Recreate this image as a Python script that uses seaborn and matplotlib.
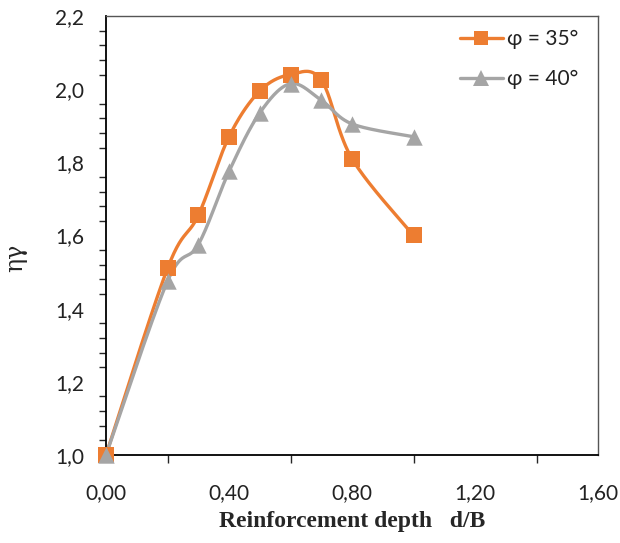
import numpy as np
import pandas as pd
import matplotlib
matplotlib.use("Agg")
import matplotlib.pyplot as plt
import seaborn as sns
from matplotlib.lines import Line2D
from matplotlib.ticker import MultipleLocator

# ---- data ----
depth = [0.0, 0.2, 0.3, 0.4, 0.5, 0.6, 0.7, 0.8, 1.0]
eta_35 = [1.00, 1.51, 1.655, 1.87, 1.995, 2.04, 2.025, 1.81, 1.60]
eta_40 = [1.00, 1.475, 1.575, 1.775, 1.935, 2.015, 1.97, 1.905, 1.87]
series_labels = ["φ = 35°", "φ = 40°"]
xticks = [0.0, 0.4, 0.8, 1.2, 1.6]
xtick_labels = ["0,00", "0,40", "0,80", "1,20", "1,60"]
yticks = [1.0, 1.2, 1.4, 1.6, 1.8, 2.0, 2.2]
ytick_labels = ["1,0", "1,2", "1,4", "1,6", "1,8", "2,0", "2,2"]

c35 = "#ED7D31"
c40 = "#A5A5A5"

sns.set_style("white")
plt.rcParams["font.family"] = ["Lato", "DejaVu Sans"]

W, H = 620, 543
fig = plt.figure(figsize=(W / 100, H / 100), dpi=100)
L, R, T, B = 106, 598, 16, 455
ax = fig.add_axes([L / W, 1 - B / H, (R - L) / W, (B - T) / H])
ax.set_xlim(0, 1.6)
ax.set_ylim(1.0, 2.2)

def smooth(xs, ys, sx=(R - L) / 1.6, sy=(B - T) / 1.2, n=40):
    # Excel-like smoothing (Catmull-Rom Bezier) in pixel space
    P = np.column_stack([np.asarray(xs) * sx, np.asarray(ys) * sy])
    out = []
    for i in range(len(P) - 1):
        p0 = P[i - 1] if i > 0 else P[i]
        p1 = P[i]
        p2 = P[i + 1]
        p3 = P[i + 2] if i + 2 < len(P) else P[i + 1]
        c1 = p1 + (p2 - p0) / 6
        c2 = p2 - (p3 - p1) / 6
        t = np.linspace(0, 1, n)[:, None]
        b = ((1 - t) ** 3) * p1 + 3 * ((1 - t) ** 2) * t * c1 + 3 * (1 - t) * t ** 2 * c2 + t ** 3 * p2
        out.append(b if i == 0 else b[1:])
    Bz = np.vstack(out)
    return Bz[:, 0] / sx, Bz[:, 1] / sy

for ys, col, mk, ms, lab in [(eta_35, c35, "s", 120, series_labels[0]),
                             (eta_40, c40, "^", 140, series_labels[1])]:
    sx_, sy_ = smooth(depth, ys)
    ax.plot(sx_, sy_, color=col, lw=2.4, clip_on=False, zorder=3)
    df = pd.DataFrame({"d": depth, "eta": ys})
    sns.scatterplot(data=df, x="d", y="eta", marker=mk, s=ms, color=col,
                    edgecolor=col, linewidth=0, ax=ax, zorder=4, clip_on=False)

# ticks
ax.set_xticks(xticks)
ax.set_xticklabels(xtick_labels)
ax.set_yticks(yticks)
ax.set_yticklabels(ytick_labels)
ax.xaxis.set_minor_locator(MultipleLocator(0.2))
ax.yaxis.set_minor_locator(MultipleLocator(0.04))
ax.tick_params(axis="x", which="major", direction="inout", length=12, width=1.2,
               labelsize=15, pad=14, colors="black", labelcolor="#222222")
ax.tick_params(axis="x", which="minor", direction="out", length=6, width=1.0, bottom=True)
ax.tick_params(axis="y", which="major", direction="out", length=5, width=1.2,
               labelsize=15, pad=11, colors="black", labelcolor="#222222")
ax.tick_params(axis="y", which="minor", direction="out", length=5, width=1.0, left=True)

for s in ["left", "bottom"]:
    ax.spines[s].set_color("black")
    ax.spines[s].set_linewidth(1.3)
for s in ["top", "right"]:
    ax.spines[s].set_color("#555555")
    ax.spines[s].set_linewidth(1.0)

ax.set_xlabel("Reinforcement depth   d/B", fontsize=17, fontweight="bold",
              family=["Liberation Serif"])
ax.xaxis.set_label_coords(0.5, -(522 - B) / (B - T), transform=ax.transAxes)
ax.xaxis.label.set_verticalalignment("center")
ax.set_ylabel("ηγ", fontsize=17, family=["DejaVu Serif"])
ax.yaxis.set_label_coords(-(L - 16) / (R - L), (B - 258) / (B - T), transform=ax.transAxes)
ax.yaxis.label.set_verticalalignment("center")

handles = [Line2D([], [], color=c35, lw=2.4, marker="s", markersize=10, markeredgewidth=0),
           Line2D([], [], color=c40, lw=2.4, marker="^", markersize=11, markeredgewidth=0)]
leg = fig.legend(handles, series_labels, loc="upper left", frameon=False, fontsize=15,
                 handlelength=2.05, handletextpad=0.2, labelspacing=0.95,
                 borderpad=0, borderaxespad=0,
                 bbox_to_anchor=(460 / W, 1 - 29 / H))
for t in leg.get_texts():
    t.set_color("#222222")

fig.savefig("out.png", dpi=100)
